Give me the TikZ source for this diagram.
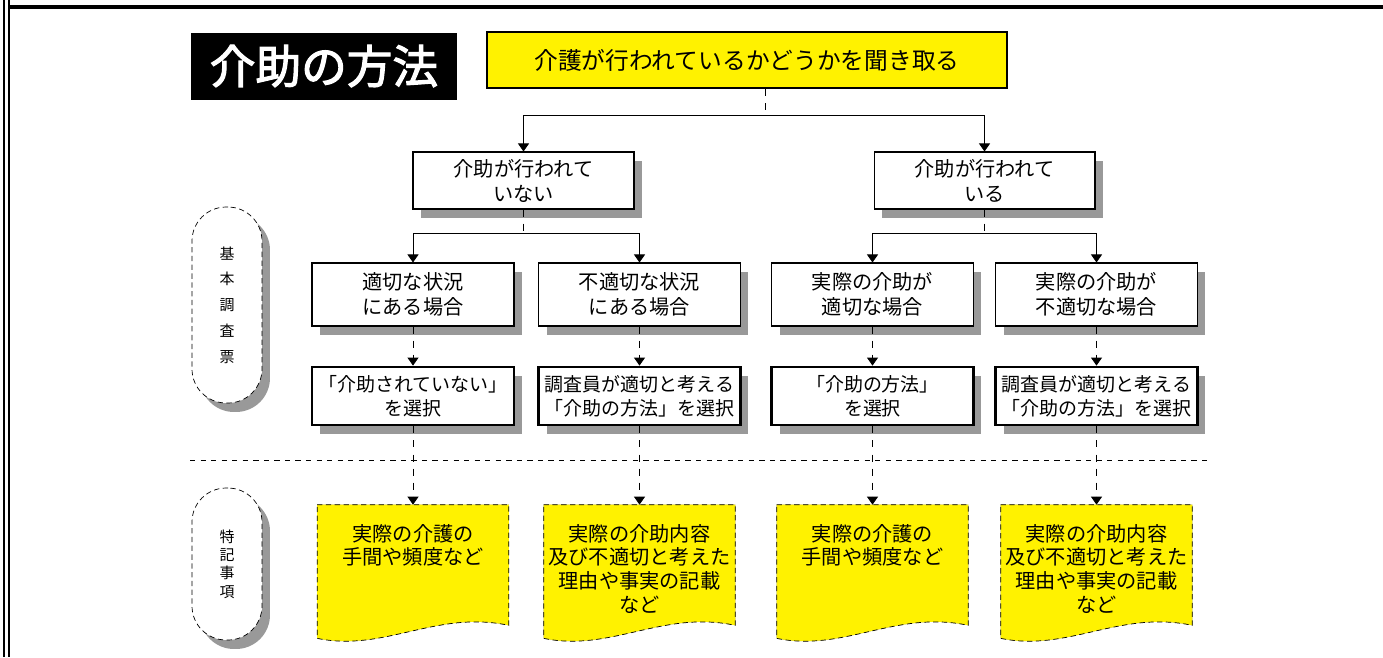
\documentclass[tikz,border=0pt]{standalone}
\usepackage{fontspec}
\setmainfont{Noto Sans CJK JP}[AutoFakeBold=2.5]
\usetikzlibrary{arrows.meta}
\usetikzlibrary{shadows}
\usetikzlibrary{calc}

\definecolor{hiyellow}{RGB}{255,242,0}
\colorlet{shadowgray}{black!40}

\tikzset{
	shade box/.style={drop shadow={shadow xshift=0.16cm, shadow yshift=-0.18cm, fill=shadowgray, opacity=1}},
	headline/.style={fill=black, text=white, minimum width=5.32cm, minimum height=1.34cm, font=\fontsize{26}{30}\selectfont\bfseries},
	askbox/.style={draw, line width=1.2pt, fill=hiyellow, minimum width=10.4cm, minimum height=1.12cm, font=\fontsize{13.5}{16}\selectfont},
	casebox/.style={draw, line width=0.6pt, fill=white, align=center, shade box, minimum width=4.04cm, minimum height=1.26cm, font=\fontsize{11.5}{14.2}\selectfont},
	pickbox/.style={casebox, line width=1.6pt, minimum height=1.16cm, font=\fontsize{10.8}{13.6}\selectfont},
	sidetag/.style={draw, densely dashed, fill=white, rounded corners=0.68cm, align=center, shade box, minimum width=1.4cm},
	docframe/.style={minimum width=3.82cm, minimum height=2.54cm, inner sep=0pt},
	doctext/.style={align=center, inner sep=0pt, anchor=north, font=\fontsize{11.5}{13.6}\selectfont},
	stem/.style={dash pattern=on 4pt off 4pt, line width=0.5pt},
	arr/.style={-{Triangle[width=0.22cm,length=0.16cm]}},
}

\begin{document}
\begin{tikzpicture}[x=0.02cm, y=-0.02cm]
	\useasboundingbox (0,0) rectangle (1383,657);
	
	% frame
	\draw[line width=1pt] (4,0) -- (4,657);
	\draw[line width=1pt] (9,0) -- (9,657);
	\draw[line width=1.8pt] (9,7) -- (1383,7);
	
	\node[headline] (title) at (324,66) {介助の方法};
	\node[askbox] (ask) at (747,60) {介護が行われているかどうかを聞き取る};
	
	% side tags
	\node[sidetag, minimum height=3.92cm, font=\fontsize{8.5}{14.7}\selectfont] (basic) at (227,305) {基\\本\\調\\査\\票};
	\node[sidetag, minimum height=3.04cm, font=\fontsize{8.5}{10.5}\selectfont] (notes) at (227,564) {特\\記\\事\\項};
	
	% second row
	\node[casebox, minimum width=4.42cm, minimum height=1.14cm] (no) at (523.5,180.5) {介助が行われて\\いない};
	\node[casebox, minimum width=4.42cm, minimum height=1.14cm] (yes) at (984.5,180.5) {介助が行われて\\いる};
	
	% third row
	\node[casebox] (caseA) at (413,294.5) {適切な状況\\にある場合};
	\node[casebox] (caseB) at (639.5,294.5) {不適切な状況\\にある場合};
	\node[casebox] (caseC) at (872.5,294.5) {実際の介助が\\適切な場合};
	\node[casebox] (caseD) at (1096.5,294.5) {実際の介助が\\不適切な場合};
	
	% fourth row
	\node[pickbox] (pickA) at (413,396) {「介助されていない」\\を選択};
	\node[pickbox] (pickB) at (639.5,396) {調査員が適切と考える\\「介助の方法」を選択};
	\node[pickbox] (pickC) at (872.5,396) {「介助の方法」\\を選択};
	\node[pickbox] (pickD) at (1096.5,396) {調査員が適切と考える\\「介助の方法」を選択};
	
	\draw[dashed] (190,460) -- (1207,460);
	
	% notes
	\node[docframe] (docA) at (413,568.5) {};
	\node[docframe] (docB) at (639.5,568.5) {};
	\node[docframe] (docC) at (872.5,568.5) {};
	\node[docframe] (docD) at (1096.5,568.5) {};
	\foreach \d in {docA,docB,docC,docD} {
		\fill[shadowgray, xshift=0.16cm, yshift=-0.2cm] (\d.north west) -- (\d.north east) -- ([yshift=0.14cm]\d.south east)
			.. controls ($(\d.south west)!0.62!(\d.south east)+(0,0.45cm)$) and ($(\d.south west)!0.35!(\d.south east)+(0,-0.4cm)$) .. ([yshift=-0.12cm]\d.south west) -- cycle;
		\draw[densely dashed, fill=hiyellow] (\d.north west) -- (\d.north east) -- ([yshift=0.14cm]\d.south east)
			.. controls ($(\d.south west)!0.62!(\d.south east)+(0,0.45cm)$) and ($(\d.south west)!0.35!(\d.south east)+(0,-0.4cm)$) .. ([yshift=-0.12cm]\d.south west) -- cycle;
	}
	\node[doctext] (textA) at ([yshift=-0.38cm]docA.north) {実際の介護の\\手間や頻度など};
	\node[doctext] (textB) at ([yshift=-0.38cm]docB.north) {実際の介助内容\\及び不適切と考えた\\理由や事実の記載\\など};
	\node[doctext] (textC) at ([yshift=-0.38cm]docC.north) {実際の介護の\\手間や頻度など};
	\node[doctext] (textD) at ([yshift=-0.38cm]docD.north) {実際の介助内容\\及び不適切と考えた\\理由や事実の記載\\など};
	
	% connectors
	\coordinate (fork1) at (765,115);
	\draw[stem] (ask.south -| fork1) -- (fork1);
	\draw[line width=0.5pt] (fork1 -| no.north) -- (fork1 -| yes.north);
	\draw[line width=0.5pt, arr] (fork1 -| no.north) -- (no.north);
	\draw[line width=0.5pt, arr] (fork1 -| yes.north) -- (yes.north);
	
	\coordinate (fork2) at (0,233);
	\draw[stem] (no.south) -- (no.south |- fork2);
	\draw[stem] (yes.south) -- (yes.south |- fork2);
	\draw[line width=0.5pt] (fork2 -| caseA.north) -- (fork2 -| caseB.north);
	\draw[line width=0.5pt] (fork2 -| caseC.north) -- (fork2 -| caseD.north);
	\foreach \c in {caseA,caseB,caseC,caseD}
		\draw[line width=0.5pt, arr] (fork2 -| \c.north) -- (\c.north);
	
	\draw[stem, arr] (caseA.south) -- (pickA.north);
	\draw[stem, arr] (caseB.south) -- (pickB.north);
	\draw[stem, arr] (caseC.south) -- (pickC.north);
	\draw[stem, arr] (caseD.south) -- (pickD.north);
	
	\draw[stem, arr] (pickA.south) -- (docA.north);
	\draw[stem, arr] (pickB.south) -- (docB.north);
	\draw[stem, arr] (pickC.south) -- (docC.north);
	\draw[stem, arr] (pickD.south) -- (docD.north);
\end{tikzpicture}
\end{document}
